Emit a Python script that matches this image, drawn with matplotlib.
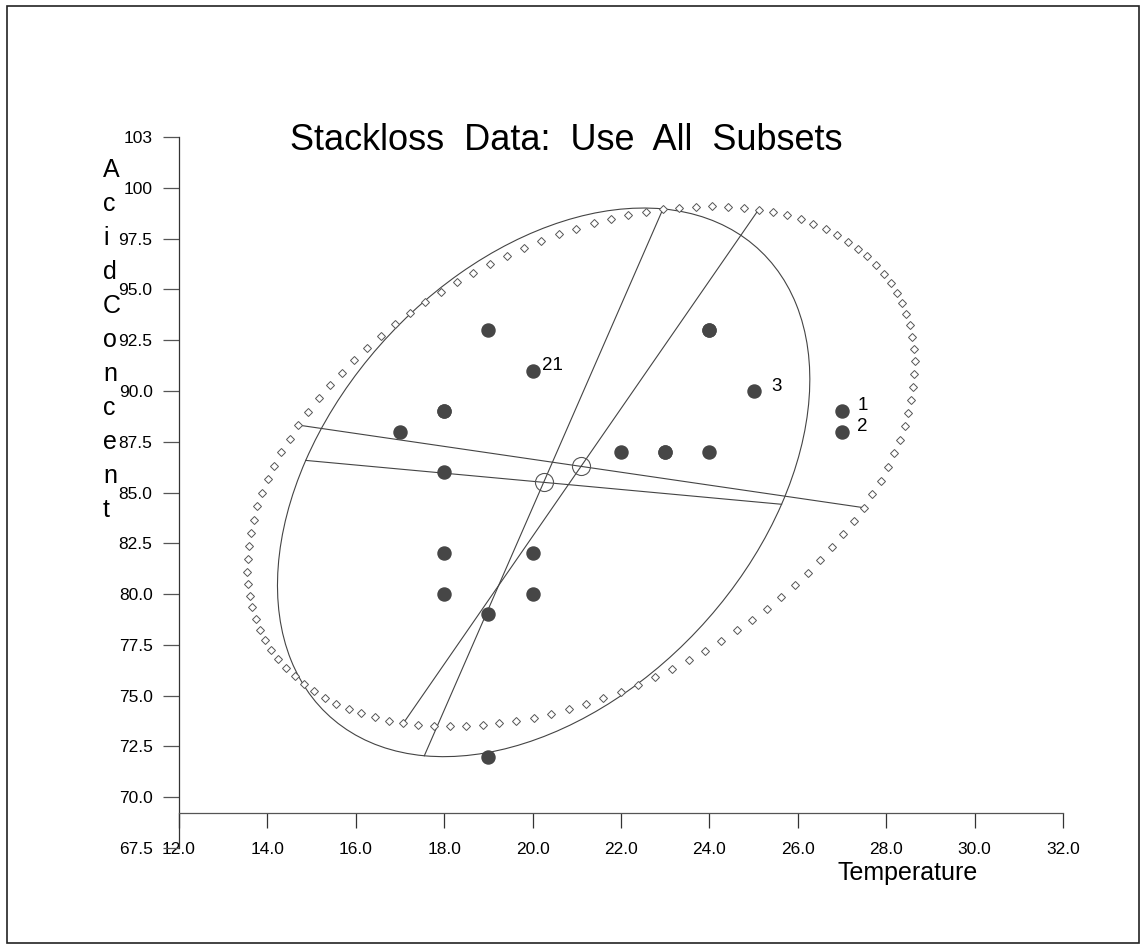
import numpy as np
import matplotlib
matplotlib.use("Agg")
import matplotlib.pyplot as plt
from matplotlib.patches import Ellipse, Rectangle

plt.rcParams['font.family'] = ['Liberation Sans', 'DejaVu Sans']

# ---- data (stackloss: Water Temp vs Acid Conc.) ----
water_temp = [27, 27, 25, 24, 22, 23, 24, 24, 23, 18, 18, 17, 18, 19, 18, 18, 19, 19, 20, 20, 20]
acid_conc = [89, 88, 90, 87, 87, 87, 93, 93, 87, 80, 89, 88, 82, 93, 89, 86, 72, 79, 80, 82, 91]
obs_labels = {1: "1", 2: "2", 3: "3", 21: "21"}

x_ticks = [12, 14, 16, 18, 20, 22, 24, 26, 28, 30, 32]
x_tick_labels = ["12.0", "14.0", "16.0", "18.0", "20.0", "22.0", "24.0", "26.0", "28.0", "30.0", "32.0"]
y_ticks = [67.5, 70, 72.5, 75, 77.5, 80, 82.5, 85, 87.5, 90, 92.5, 95, 97.5, 100, 102.5]
y_tick_labels = ["67.5", "70.0", "72.5", "75.0", "77.5", "80.0", "82.5", "85.0", "87.5",
                 "90.0", "92.5", "95.0", "97.5", "100", "103"]

# robust (MCD-type) ellipse
robust_center = (20.25, 85.5)
robust_major_end = (22.95, 98.96)
robust_minor_half = 5.49
chi2_95 = 5.991
n_ellipse_pts = 120

W, H = 1146, 949
fig = plt.figure(figsize=(W / 100, H / 100), dpi=100)

def fx(px):
    return px / W

def fy(py):
    return 1 - py / H

# frame
fig.patches.append(Rectangle((fx(7), fy(943)), fx(1139) - fx(7), fy(6) - fy(943),
                             transform=fig.transFigure, fill=False, ec='#222', lw=1.2))

ax = fig.add_axes([fx(179), fy(848), fx(1063) - fx(179), fy(137) - fy(848)])
ax.set_xlim(12, 32)
ax.set_ylim(67.5, 102.5)
ax.patch.set_visible(False)
for s in ['top', 'right']:
    ax.spines[s].set_visible(False)
ax.spines['left'].set_color('#333')
ax.spines['left'].set_linewidth(0.9)
ax.spines['bottom'].set_position(('data', 69.22))
ax.spines['bottom'].set_color('#555')
ax.spines['bottom'].set_linewidth(0.9)

ax.set_xticks(x_ticks)
ax.set_xticklabels(x_tick_labels)
ax.set_yticks(y_ticks)
ax.set_yticklabels(y_tick_labels)
ax.tick_params(axis='x', direction='out', length=10.8, width=0.9, color='#333',
               pad=10, labelsize=12.5)
ax.tick_params(axis='y', direction='out', length=11.5, width=0.9, color='#555',
               pad=7.5, labelsize=12.5)

line_col = '#444'

# classical ellipse from data
X = np.column_stack([water_temp, acid_conc]).astype(float)
mu = X.mean(axis=0)
cov = np.cov(X.T, ddof=0)
vals, vecs = np.linalg.eigh(cov)
order = np.argsort(vals)[::-1]
vals = vals[order]
vecs = vecs[:, order]
if vecs[1, 0] < 0:
    vecs[:, 0] *= -1
if vecs[0, 1] > 0:
    vecs[:, 1] *= -1
a = np.sqrt(chi2_95 * vals[0])
b = np.sqrt(chi2_95 * vals[1])
t = np.linspace(0, 2 * np.pi, n_ellipse_pts, endpoint=False)
ell = mu[:, None] + a * np.cos(t) * vecs[:, [0]] + b * np.sin(t) * vecs[:, [1]]
ax.plot(ell[0], ell[1], linestyle='none', marker='D', ms=3.6, mfc='white',
        mec='#555', mew=0.7, zorder=3, clip_on=False)
for k in range(2):
    half = (a if k == 0 else b) * vecs[:, k]
    p1, p2 = mu - half, mu + half
    ax.plot([p1[0], p2[0]], [p1[1], p2[1]], color=line_col, lw=0.8, zorder=2)

# robust ellipse
rc = np.array(robust_center)
maj = np.array(robust_major_end) - rc
ra = np.hypot(*maj)
ang = np.degrees(np.arctan2(maj[1], maj[0]))
ax.add_patch(Ellipse(rc, 2 * ra, 2 * robust_minor_half, angle=ang, fill=False,
                     ec=line_col, lw=0.8, zorder=2))
u = maj / ra
v = np.array([u[1], -u[0]])
for half in (maj, robust_minor_half * v):
    p1, p2 = rc - half, rc + half
    ax.plot([p1[0], p2[0]], [p1[1], p2[1]], color=line_col, lw=0.8, zorder=2)

# centres
ax.plot([mu[0], rc[0]], [mu[1], rc[1]], linestyle='none', marker='o', ms=13,
        mfc='none', mec='#555', mew=0.8, zorder=4)

# observations
ax.plot(water_temp, acid_conc, linestyle='none', marker='o', ms=9.4,
        color='#464646', zorder=5)
label_off = {1: (11, 4), 2: (11, 4), 3: (12.5, 3.5), 21: (6.5, 4)}
for i, lab in obs_labels.items():
    ax.annotate(lab, (water_temp[i - 1], acid_conc[i - 1]), xytext=label_off[i],
                textcoords='offset points', ha='left', va='center', fontsize=13.5)

# titles
fig.text(fx(566), fy(150), "Stackloss  Data:  Use  All  Subsets", ha='center',
         va='baseline', fontsize=26)
fig.text(fx(837), fy(880), "Temperature", ha='left', va='baseline', fontsize=18)
for i, ch in enumerate("AcidConcent"):
    fig.text(fx(103), fy(177 + 34 * i), ch, ha='left', va='baseline', fontsize=18)

fig.savefig("out.png", dpi=100)
